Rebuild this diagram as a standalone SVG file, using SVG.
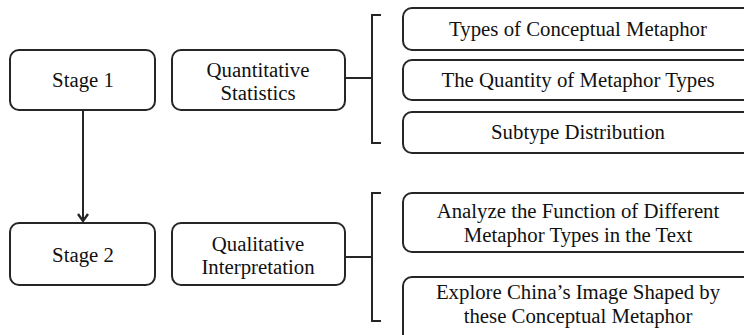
<svg xmlns="http://www.w3.org/2000/svg" width="744" height="335" viewBox="0 0 744 335">
<defs>
<style>
.box{fill:#fff;stroke:#262626;stroke-width:2}
text{font-family:'Liberation Serif','DejaVu Serif',Times,serif;font-size:20.8px;fill:#111;text-anchor:middle}
.ln{fill:none;stroke:#262626;stroke-width:2}
.hd{fill:none;stroke:#262626;stroke-width:2.4;stroke-linejoin:miter}
</style>
</defs>
<rect width="744" height="335" fill="#fff"/>
<g id="connectors">
<line class="ln" x1="83" y1="110" x2="83" y2="221"/>
<path class="hd" d="M78,214 L83,221 L88,214"/>
<path class="ln" d="M345,78 H372 M381,15 H372 V143 H381"/>
<path class="ln" d="M345,257 H372 M381,193 H372 V321 H381"/>
</g>
<g font-family="Liberation Serif, serif">
<g id="stage1"><rect class="box" x="10" y="50" width="145" height="60" rx="9"/><text x="83" y="87">Stage 1</text></g>
<g id="stage2"><rect class="box" x="10" y="223" width="145" height="62" rx="9"/><text x="83" y="262">Stage 2</text></g>
<g id="quant"><rect class="box" x="172" y="50" width="173" height="60" rx="9"/><text x="258" y="77">Quantitative</text><text x="258" y="100">Statistics</text></g>
<g id="qual"><rect class="box" x="172" y="223" width="173" height="62" rx="9"/><text x="258" y="251">Qualitative</text><text x="258" y="274">Interpretation</text></g>
<g id="types"><rect class="box" x="403" y="8" width="350" height="42" rx="9"/><text x="578" y="36">Types of Conceptual Metaphor</text></g>
<g id="quantity"><rect class="box" x="403" y="60" width="350" height="40" rx="9"/><text x="578" y="87">The Quantity of Metaphor Types</text></g>
<g id="subtype"><rect class="box" x="403" y="112" width="350" height="41" rx="9"/><text x="578" y="139">Subtype Distribution</text></g>
<g id="analyze"><rect class="box" x="403" y="193" width="350" height="59" rx="9"/><text x="578" y="218">Analyze the Function of Different</text><text x="578" y="242">Metaphor Types in the Text</text></g>
<g id="explore"><rect class="box" x="403" y="277" width="350" height="70" rx="9"/><text x="578" y="299">Explore China’s Image Shaped by</text><text x="578" y="323">these Conceptual Metaphor</text></g>
</g>
</svg>
